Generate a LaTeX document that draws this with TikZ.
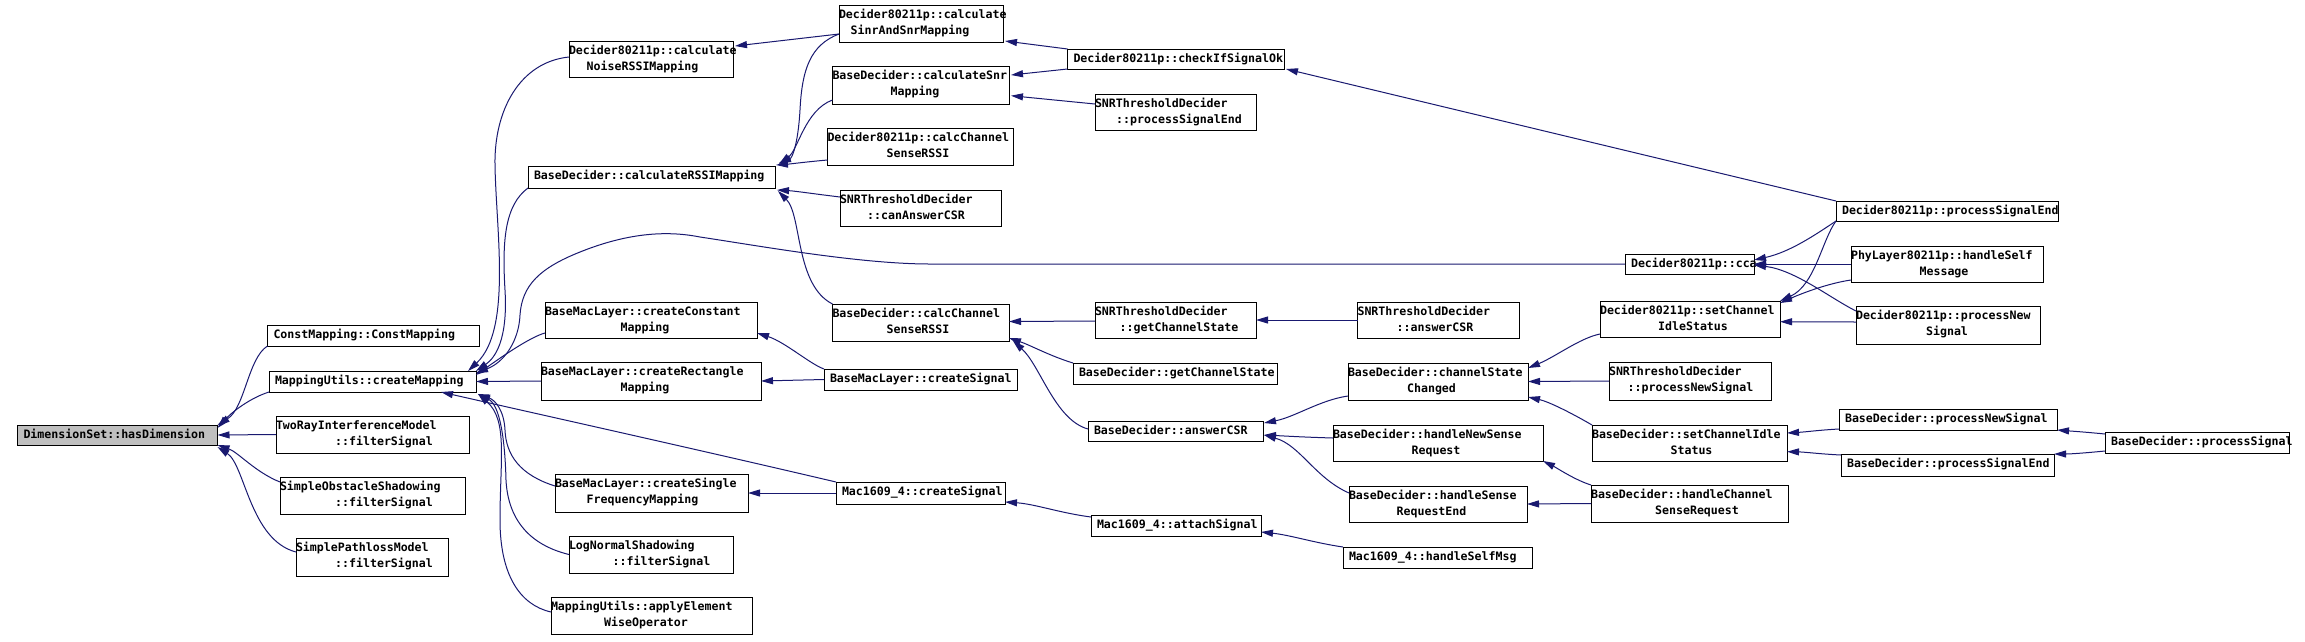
\documentclass[tikz,border=0pt]{standalone}
\usepackage{fontspec}
\newfontfamily\dfont{DejaVu Sans Mono}
\usetikzlibrary{arrows.meta,fit,calc}
\definecolor{edgecol}{HTML}{191970}
\definecolor{rootfill}{HTML}{BFBFBF}
\tikzset{
  box/.style={draw=black, line width=1pt, fill=white, inner sep=0pt, outer sep=0pt, rectangle},
  txt/.style={inner sep=0pt, outer sep=0pt, font=\dfont\bfseries\fontsize{11.6}{13}\selectfont},
  callarrow/.style={draw=edgecol, line width=1pt, -{Triangle[length=12pt,width=7pt,fill=edgecol]}}
}
\newcommand\boxA[7][]{%
  \node[box,#1, fit={(#2,#3)(#4,#5)}] (#6) {};
  \node[txt, anchor=base west] (#6t) at ({#2+6},{#3+13}) {#7};
}
\newcommand\boxB[8]{%
  \node[box, fit={(#1,#2)(#3,#4)}] (#5) {};
  \node[txt, anchor=base west] (#5a) at (#1,{#2+13}) {#6};
  \node[txt, anchor=base] (#5b) at (#8,{#2+29}) {#7};
}
\begin{document}
\begin{tikzpicture}[x=1pt,y=-1pt]
\fill[white] (0,0) rectangle (2305,641);
\useasboundingbox (0,0) rectangle (2305,641);
% column 0
\boxA[fill=rootfill]{17.5}{425}{217.5}{445}{hasdim}{DimensionSet::hasDimension}
% column 1
\boxA{267.5}{325}{479}{346}{constmap}{ConstMapping::ConstMapping}
\boxA{269}{371}{476}{392}{createmap}{MappingUtils::createMapping}
\boxB{276}{416}{469}{453}{tworay}{TwoRayInterferenceModel}{::filterSignal}{384}
\boxB{280}{477}{465}{514}{obstacle}{SimpleObstacleShadowing}{::filterSignal}{384}
\boxB{296}{538}{448}{576}{pathloss}{SimplePathlossModel}{::filterSignal}{384}
% column 2
\boxB{569}{41}{733}{77}{noise}{Decider80211p::calculate}{NoiseRSSIMapping}{642.5}
\boxA{528}{166}{775}{188}{rssimap}{BaseDecider::calculateRSSIMapping}
\boxB{545}{302}{757}{338}{constmapping}{BaseMacLayer::createConstant}{Mapping}{645}
\boxB{541}{362}{761}{400}{rectmapping}{BaseMacLayer::createRectangle}{Mapping}{645}
\boxB{555}{474}{748}{512}{singlefreq}{BaseMacLayer::createSingle}{FrequencyMapping}{642.5}
\boxB{569}{536}{733.5}{573}{lognormal}{LogNormalShadowing}{::filterSignal}{661.5}
\boxB{551}{597}{752}{634}{applyelem}{MappingUtils::applyElement}{WiseOperator}{646}
% column 3
\boxB{839}{5}{1003}{42}{sinrsnr}{Decider80211p::calculate}{SinrAndSnrMapping}{910}
\boxB{832.5}{66}{1009}{104}{snrmapping}{BaseDecider::calculateSnr}{Mapping}{915}
\boxB{827.5}{128}{1013}{165}{d80calccsr}{Decider80211p::calcChannel}{SenseRSSI}{918}
\boxB{840}{190}{1001}{226}{cananswer}{SNRThresholdDecider}{::canAnswerCSR}{916}
\boxB{832.5}{304}{1009}{341}{bdcalccsr}{BaseDecider::calcChannel}{SenseRSSI}{918}
\boxA{824}{369}{1017}{390}{bmlsignal}{BaseMacLayer::createSignal}
\boxA{836}{482}{1005}{504}{macsignal}{Mac1609\_4::createSignal}
% column 4
\boxA{1067.5}{49}{1284}{69}{checkok}{Decider80211p::checkIfSignalOk}
\boxB{1095}{94}{1256}{130}{snrprocend}{SNRThresholdDecider}{::processSignalEnd}{1179}
\boxB{1095}{302}{1256}{338}{snrgetcs}{SNRThresholdDecider}{::getChannelState}{1179}
\boxA{1073}{363}{1277}{384}{bdgetcs}{BaseDecider::getChannelState}
\boxA{1088}{421}{1263}{441}{bdanswer}{BaseDecider::answerCSR}
\boxA{1091}{515}{1261}{536}{attach}{Mac1609\_4::attachSignal}
% column 5
\boxB{1357.5}{302}{1519}{338}{snranswer}{SNRThresholdDecider}{::answerCSR}{1435}
\boxB{1348}{363}{1528}{400}{chstate}{BaseDecider::channelState}{Changed}{1431.5}
\boxB{1333}{425}{1543}{461}{newsense}{BaseDecider::handleNewSense}{Request}{1436}
\boxB{1349}{486}{1527}{522}{reqend}{BaseDecider::handleSense}{RequestEnd}{1431.5}
\boxA{1343}{547}{1532}{568}{selfmsg}{Mac1609\_4::handleSelfMsg}
% column 6
\boxA{1625}{254}{1754}{274}{cca}{Decider80211p::cca}
\boxB{1600}{301}{1780}{337}{d80setidle}{Decider80211p::setChannel}{IdleStatus}{1693}
\boxB{1609}{362}{1771}{400}{snrprocnew}{SNRThresholdDecider}{::processNewSignal}{1690.5}
\boxB{1592}{425}{1787}{461}{bdsetidle}{BaseDecider::setChannelIdle}{Status}{1691.5}
\boxB{1591}{485}{1788}{522}{handlechsense}{BaseDecider::handleChannel}{SenseRequest}{1697}
% column 7
\boxA{1836}{201}{2058}{221}{d80procend}{Decider80211p::processSignalEnd}
\boxB{1851}{246}{2043}{282}{phyself}{PhyLayer80211p::handleSelf}{Message}{1944}
\boxB{1856}{306}{2040}{344}{d80procnew}{Decider80211p::processNew}{Signal}{1947}
\boxA{1839}{409}{2057}{430}{bdprocnew}{BaseDecider::processNewSignal}
\boxA{1841}{454}{2054}{476}{bdprocend}{BaseDecider::processSignalEnd}
% column 8
\boxA{2105}{432}{2289}{453}{bdprocsig}{BaseDecider::processSignal}

% ---------------- edges ----------------
\draw[callarrow] (constmap.south west) .. controls (248,358) and (245,408) .. (hasdim.north east);
\draw[callarrow] (createmap.south west) .. controls (250,398) and (232,412) .. ([yshift=-3pt]hasdim.north east);
\draw[callarrow] (tworay.west) -- (hasdim.east);
\draw[callarrow] ([yshift=13.5pt]obstacle.west) .. controls (255,472) and (238,452) .. (hasdim.south east);
\draw[callarrow] ([yshift=5pt]pathloss.west) .. controls (250,540) and (245,465) .. ([yshift=-2pt]hasdim.south east);

\draw[callarrow] ([yshift=2pt]noise.west) .. controls (520,62) and (494,110) .. (495,165) .. controls (496,230) and (512,330) .. ([xshift=-8pt]createmap.north east);
\draw[callarrow] (rssimap.south west) .. controls (505,205) and (502,240) .. (505,290) .. controls (508,340) and (495,358) .. (createmap.north east);
\draw[callarrow] (cca.west) -- (930,264) .. controls (860,264) and (760,246) .. (700,237) .. controls (660,229) and (620,236) .. (580,252) .. controls (540,268) and (522,285) .. (520,315) .. controls (519,340) and (505,362) .. ([yshift=-2pt]createmap.north east);
\draw[callarrow] ([yshift=5pt]constmapping.south west) .. controls (530,337) and (500,358) .. ([yshift=6.5pt]createmap.east);
\draw[callarrow] (rectmapping.west) -- (createmap.east);
\draw[callarrow] (macsignal.north west) .. controls (700,450) and (520,410) .. ([xshift=-35pt]createmap.south east);
\draw[callarrow] ([yshift=7pt]singlefreq.west) .. controls (520,475) and (506,455) .. (505,430) .. controls (504,410) and (495,400) .. ([xshift=2pt,yshift=-2pt]createmap.south east);
\draw[callarrow] (lognormal.west) .. controls (530,545) and (508,520) .. (506,480) .. controls (505,440) and (500,405) .. ([xshift=2pt,yshift=-2pt]createmap.south east);
\draw[callarrow] ([yshift=3.5pt]applyelem.west) .. controls (520,605) and (500,575) .. (500,520) .. controls (500,460) and (508,420) .. ([xshift=2pt,yshift=-2pt]createmap.south east);

\draw[callarrow] ([yshift=-10.5pt]sinrsnr.west) -- ([xshift=2pt,yshift=13pt]noise.east);
\draw[callarrow] ([yshift=-10.5pt]sinrsnr.west) .. controls (810,45) and (802,70) .. (800,110) .. controls (798,145) and (792,158) .. ([xshift=4pt,yshift=3pt]rssimap.north east);
\draw[callarrow] ([yshift=4pt]snrmapping.south west) .. controls (805,110) and (798,150) .. ([xshift=4pt,yshift=2pt]rssimap.north east);
\draw[callarrow] ([yshift=5pt]d80calccsr.south west) .. controls (805,162) and (790,164) .. ([xshift=1pt,yshift=1pt]rssimap.north east);
\draw[callarrow] ([yshift=11pt]cananswer.west) .. controls (815,194) and (795,191) .. ([xshift=2pt,yshift=-2pt]rssimap.south east);
\draw[callarrow] (bdcalccsr.north west) .. controls (795,285) and (802,215) .. ([xshift=3pt,yshift=-3pt]rssimap.south east);

\draw[callarrow] (checkok.north west) -- ([xshift=2pt,yshift=1pt]sinrsnr.south east);
\draw[callarrow] (checkok.south west) -- ([xshift=2pt,yshift=10pt]snrmapping.east);
\draw[callarrow] ([yshift=8pt]snrprocend.west) -- ([xshift=2pt,yshift=-10.7pt]snrmapping.east);
\draw[callarrow] (d80procend.north west) -- ([xshift=2pt]checkok.south east);

\draw[callarrow] (bmlsignal.north west) .. controls (810,364) and (785,342) .. ([yshift=-13pt]constmapping.east);
\draw[callarrow] (bmlsignal.west) -- (rectmapping.east);
\draw[callarrow] ([yshift=-1pt]snrgetcs.west) -- ([yshift=1pt]bdcalccsr.east);
\draw[callarrow] (bdgetcs.north west) .. controls (1050,356) and (1030,345) .. ([yshift=3pt]bdcalccsr.south east);
\draw[callarrow] ([yshift=2pt]bdanswer.west) .. controls (1055,420) and (1040,365) .. ([xshift=4pt]bdcalccsr.south east);
\draw[callarrow] (snranswer.west) -- (snrgetcs.east);
\draw[callarrow] (macsignal.west) -- (singlefreq.east);
\draw[callarrow] ([yshift=-2pt]attach.north west) .. controls (1060,513) and (1035,504) .. ([yshift=2pt]macsignal.south east);
\draw[callarrow] (selfmsg.north west) .. controls (1315,543) and (1290,535) .. ([yshift=-6.5pt]attach.east);

\draw[callarrow] ([yshift=4pt]chstate.south west) .. controls (1320,400) and (1295,417) .. ([xshift=1pt,yshift=-2pt]bdanswer.north east);
\draw[callarrow] ([yshift=5pt]newsense.west) .. controls (1300,437) and (1285,436) .. ([xshift=1pt,yshift=-4pt]bdanswer.east);
\draw[callarrow] ([yshift=11pt]reqend.west) .. controls (1315,478) and (1300,445) .. ([xshift=1pt,yshift=-4pt]bdanswer.east);

\draw[callarrow] ([yshift=3pt]d80setidle.south west) .. controls (1580,338) and (1555,357) .. ([yshift=-5pt]chstate.north east);
\draw[callarrow] (snrprocnew.west) -- (chstate.east);
\draw[callarrow] (bdsetidle.north west) .. controls (1575,415) and (1550,402) .. ([yshift=3pt]chstate.south east);
\draw[callarrow] (handlechsense.north west) .. controls (1575,480) and (1557,468) .. (newsense.south east);
\draw[callarrow] (handlechsense.west) -- (reqend.east);

\draw[callarrow] (d80procend.south west) .. controls (1815,235) and (1790,252) .. ([yshift=4pt]cca.east);
\draw[callarrow] (phyself.west) -- (cca.east);
\draw[callarrow] ([yshift=-5pt]d80procnew.north west) .. controls (1830,298) and (1795,270) .. ([yshift=-1pt]cca.east);
\draw[callarrow] (d80procend.south west) .. controls (1822,240) and (1815,285) .. (d80setidle.north east);
\draw[callarrow] ([yshift=2pt]phyself.south west) .. controls (1830,283) and (1805,292) .. ([yshift=-2pt]d80setidle.north east);
\draw[callarrow] ([yshift=3pt]d80procnew.west) -- ([yshift=-2.7pt]d80setidle.east);

\draw[callarrow] ([yshift=1pt]bdprocnew.south west) .. controls (1820,430) and (1805,432) .. ([yshift=-8pt]bdsetidle.north east);
\draw[callarrow] ([yshift=-1pt]bdprocend.north west) .. controls (1820,454) and (1805,452) .. ([yshift=9.3pt]bdsetidle.south east);
\draw[callarrow] ([yshift=-2pt]bdprocsig.north west) .. controls (2085,432) and (2070,431) .. (bdprocnew.south east);
\draw[callarrow] ([yshift=2pt]bdprocsig.south west) .. controls (2085,453) and (2070,454) .. (bdprocend.north east);
\end{tikzpicture}
\end{document}
